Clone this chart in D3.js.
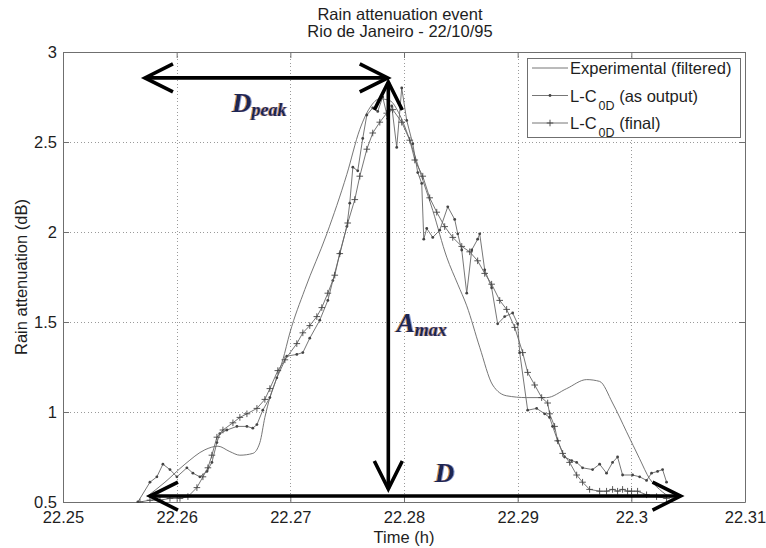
<!DOCTYPE html>
<html>
<head>
<meta charset="utf-8">
<script src="https://cdn.jsdelivr.net/npm/d3@7"></script>
<style>
  body { margin: 0; background: #fff; }
  svg { display: block; }
</style>
</head>
<body>
<svg id="chart" width="766" height="548"></svg>
<script>
// Rain attenuation event, Rio de Janeiro 22/10/95: time in hours, attenuation in dB
const titleLines = ["Rain attenuation event", "Rio de Janeiro - 22/10/95"];
const xLabel = "Time (h)";
const yLabel = "Rain attenuation (dB)";

const xTicks = [22.25, 22.26, 22.27, 22.28, 22.29, 22.30, 22.31];
const yTicks = [0.5, 1, 1.5, 2, 2.5, 3];

// Experimental (filtered)
const experimentalTime = [22.25738, 22.25897, 22.26073, 22.26248, 22.26363, 22.26468, 22.26556, 22.2667, 22.26732, 22.26776,
  22.2682, 22.26881, 22.26934, 22.26996, 22.27127, 22.27321, 22.27497, 22.27611, 22.27699, 22.27787,
  22.27875, 22.27963, 22.28051, 22.28138, 22.28253, 22.28376, 22.28473, 22.28552, 22.28666, 22.2878,
  22.28903, 22.29079, 22.29255, 22.29431, 22.29607, 22.29721, 22.29835, 22.29958, 22.30073, 22.3016,
  22.30248, 22.30354];
const experimentalAtt = [0.53, 0.61, 0.71, 0.79, 0.81, 0.78, 0.76, 0.77, 0.83, 0.97,
  1.08, 1.19, 1.29, 1.44, 1.68, 1.99, 2.32, 2.57, 2.69, 2.74,
  2.73, 2.65, 2.51, 2.34, 2.12, 1.86, 1.71, 1.59, 1.36, 1.15,
  1.09, 1.08, 1.08, 1.13, 1.18, 1.17, 1.05, 0.89, 0.74, 0.63,
  0.57, 0.52];

// L-C0D (as output)
const outputTime = [22.25659, 22.25765, 22.25826, 22.25879, 22.25941, 22.26002, 22.2609, 22.26143, 22.26204, 22.26266,
  22.2631, 22.26354, 22.2638, 22.26442, 22.2653, 22.26618, 22.2667, 22.26706, 22.26758, 22.2682,
  22.26881, 22.26969, 22.27057, 22.2711, 22.27171, 22.27259, 22.2733, 22.27374, 22.27435, 22.27497,
  22.27523, 22.2755, 22.27593, 22.27637, 22.27673, 22.27725, 22.27769, 22.27813, 22.27857, 22.27892,
  22.27936, 22.2798, 22.28024, 22.28077, 22.28121, 22.28156, 22.28174, 22.282, 22.28253, 22.28314,
  22.28385, 22.28446, 22.28473, 22.28508, 22.28552, 22.28596, 22.28648, 22.28666, 22.2871, 22.28771,
  22.28824, 22.28886, 22.28956, 22.29, 22.29018, 22.29088, 22.29167, 22.29237, 22.29281, 22.29308,
  22.29352, 22.29413, 22.29475, 22.29519, 22.29571, 22.29659, 22.29721, 22.29782, 22.29835, 22.29879,
  22.29923, 22.30011, 22.30073, 22.30134, 22.30178, 22.30231, 22.30275, 22.3031];
const outputAtt = [0.50, 0.61, 0.64, 0.71, 0.68, 0.64, 0.69, 0.66, 0.64, 0.67,
  0.72, 0.83, 0.88, 0.90, 0.92, 0.92, 0.91, 0.93, 1.01, 1.08,
  1.19, 1.31, 1.32, 1.33, 1.41, 1.51, 1.62, 1.73, 1.88, 2.03,
  2.16, 2.36, 2.34, 2.52, 2.65, 2.69, 2.67, 2.75, 2.63, 2.70,
  2.47, 2.80, 2.62, 2.49, 2.33, 2.27, 1.96, 2.02, 1.97, 2.01,
  2.14, 2.07, 1.99, 1.90, 1.66, 1.90, 1.96, 1.99, 1.79, 1.69,
  1.49, 1.53, 1.55, 1.49, 1.33, 1.01, 1.02, 0.99, 0.97, 0.92,
  0.84, 0.75, 0.73, 0.72, 0.69, 0.68, 0.71, 0.66, 0.72, 0.75,
  0.65, 0.65, 0.64, 0.62, 0.66, 0.67, 0.68, 0.61];

// L-C0D (final)
const finalTime = [22.25677, 22.25765, 22.25853, 22.25941, 22.26029, 22.26099, 22.26178, 22.26231, 22.26275, 22.2631,
  22.26354, 22.26407, 22.26495, 22.26556, 22.26618, 22.26706, 22.26776, 22.2682, 22.2689, 22.26952,
  22.27057, 22.2711, 22.27171, 22.27233, 22.27277, 22.2733, 22.27391, 22.27435, 22.27505, 22.27567,
  22.27611, 22.27673, 22.27725, 22.27787, 22.27848, 22.27901, 22.2798, 22.28051, 22.28095, 22.28165,
  22.28226, 22.28288, 22.28358, 22.28429, 22.28508, 22.28578, 22.28648, 22.2871, 22.28771, 22.28842,
  22.28903, 22.28974, 22.29044, 22.29088, 22.2915, 22.29211, 22.29264, 22.29281, 22.29325, 22.29352,
  22.29396, 22.29457, 22.29519, 22.29571, 22.29633, 22.29721, 22.29782, 22.29835, 22.29879, 22.29923,
  22.29967, 22.30002, 22.30055, 22.30134, 22.30222, 22.3031];
const finalAtt = [0.50, 0.51, 0.51, 0.52, 0.52, 0.53, 0.58, 0.64, 0.69, 0.76,
  0.86, 0.90, 0.94, 0.97, 0.99, 1.02, 1.07, 1.13, 1.23, 1.29,
  1.38, 1.44, 1.48, 1.53, 1.58, 1.66, 1.76, 1.88, 2.05, 2.18,
  2.31, 2.46, 2.55, 2.61, 2.66, 2.68, 2.61, 2.51, 2.40, 2.31,
  2.19, 2.11, 2.03, 1.97, 1.92, 1.89, 1.84, 1.77, 1.71, 1.62,
  1.57, 1.47, 1.33, 1.22, 1.15, 1.08, 1.05, 0.99, 0.92, 0.84,
  0.77, 0.72, 0.65, 0.61, 0.57, 0.56, 0.56, 0.57, 0.56, 0.57,
  0.56, 0.56, 0.56, 0.54, 0.53, 0.52];

// Event annotations: start/end points [time, dB]
const peakDurationArrow = [[22.25721, 2.856], [22.27857, 2.856]];
const maxAttenuationArrow = [[22.27862, 2.833], [22.27862, 0.572]];
const eventDurationArrow = [[22.25765, 0.533], [22.30433, 0.533]];
const annotationMain = ["D", "A", "D"];
const annotationSub = ["peak", "max", ""];
const annotationTime = [22.26486, 22.27936, 22.2827];
const annotationAtt = [2.667, 1.444, 0.611];

const legendLabels = [
  { main: "Experimental (filtered)", sub: "", tail: "" },
  { main: "L-C", sub: "0D", tail: " (as output)" },
  { main: "L-C", sub: "0D", tail: " (final)" }
];

// ---------------------------------------------------------------
const svg = d3.select("#chart");
const FONT = "'Liberation Sans', Arial, Helvetica, sans-serif";
const FS = 16.5;
const TEXT = "#1e1e1e";
const AXIS = "#6f6f6f";
const LINE = "#666";
const MARK = "#444";

const plot = { left: 63, right: 745, top: 52, bottom: 502 };
const x = d3.scaleLinear().domain([22.25, 22.31]).range([plot.left, plot.right]);
const y = d3.scaleLinear().domain([0.5, 3]).range([plot.bottom, plot.top]);

// colour fringe used on the annotation letters
const defs = svg.append("defs");
const fr = defs.append("filter").attr("id", "fringe")
  .attr("x", "-20%").attr("y", "-20%").attr("width", "140%").attr("height", "140%");
fr.append("feOffset").attr("in", "SourceAlpha").attr("dx", -1.3).attr("dy", 0.3).attr("result", "o1");
fr.append("feFlood").attr("flood-color", "#d98c2b").attr("flood-opacity", 0.9).attr("result", "c1");
fr.append("feComposite").attr("in", "c1").attr("in2", "o1").attr("operator", "in").attr("result", "orange");
fr.append("feOffset").attr("in", "SourceAlpha").attr("dx", 1).attr("dy", 0).attr("result", "o2");
fr.append("feFlood").attr("flood-color", "#4c6fc0").attr("flood-opacity", 0.7).attr("result", "c2");
fr.append("feComposite").attr("in", "c2").attr("in2", "o2").attr("operator", "in").attr("result", "blue");
const merge = fr.append("feMerge");
merge.append("feMergeNode").attr("in", "orange");
merge.append("feMergeNode").attr("in", "blue");
merge.append("feMergeNode").attr("in", "SourceGraphic");

svg.append("rect").attr("width", 766).attr("height", 548).attr("fill", "#fff");

// dotted grid
const grid = svg.append("g").attr("stroke", "#9a9a9a").attr("stroke-width", 1)
  .attr("stroke-dasharray", "1,2.5").attr("shape-rendering", "crispEdges");
grid.selectAll("line.vx").data(xTicks.slice(1, -1)).join("line")
  .attr("x1", d => Math.round(x(d)) + 0.5).attr("x2", d => Math.round(x(d)) + 0.5)
  .attr("y1", plot.top).attr("y2", plot.bottom);
grid.selectAll("line.hy").data(yTicks.slice(1, -1)).join("line")
  .attr("y1", d => Math.round(y(d)) + 0.5).attr("y2", d => Math.round(y(d)) + 0.5)
  .attr("x1", plot.left).attr("x2", plot.right);

// axes (ticks point inward, box on all four sides)
const fmtX = d3.format(".2~f");
const fmtY = d3.format("~g");
function styleAxis(g) {
  g.selectAll("path.domain").attr("stroke", AXIS);
  g.selectAll(".tick line").attr("stroke", AXIS);
  g.selectAll("text").attr("fill", TEXT).attr("font-family", FONT).attr("font-size", FS);
  g.attr("font-family", FONT).attr("font-size", FS);
}
svg.append("g").attr("transform", `translate(0,${plot.bottom})`)
  .call(d3.axisBottom(x).tickValues(xTicks).tickFormat(fmtX).tickSize(-6).tickSizeOuter(0).tickPadding(9))
  .call(styleAxis);
svg.append("g").attr("transform", `translate(0,${plot.top})`)
  .call(d3.axisTop(x).tickValues(xTicks).tickFormat("").tickSize(-6).tickSizeOuter(0))
  .call(styleAxis);
svg.append("g").attr("transform", `translate(${plot.left},0)`)
  .call(d3.axisLeft(y).tickValues(yTicks).tickFormat(fmtY).tickSize(-6).tickSizeOuter(0).tickPadding(6))
  .call(styleAxis);
svg.append("g").attr("transform", `translate(${plot.right},0)`)
  .call(d3.axisRight(y).tickValues(yTicks).tickFormat("").tickSize(-6).tickSizeOuter(0))
  .call(styleAxis);

// titles and axis labels
svg.append("g").selectAll("text").data(titleLines).join("text")
  .attr("x", 400).attr("y", (d, i) => 20 + i * 17)
  .attr("text-anchor", "middle").attr("font-family", FONT).attr("font-size", FS)
  .attr("fill", TEXT).text(d => d);
svg.append("text")
  .attr("x", (plot.left + plot.right) / 2).attr("y", 543)
  .attr("text-anchor", "middle").attr("font-family", FONT).attr("font-size", FS)
  .attr("fill", TEXT).text(xLabel);
svg.append("text")
  .attr("transform", `translate(27,${(plot.top + plot.bottom) / 2}) rotate(-90)`)
  .attr("text-anchor", "middle").attr("font-family", FONT).attr("font-size", FS)
  .attr("fill", TEXT).text(yLabel);

// series
const series = [
  { t: experimentalTime, v: experimentalAtt, curve: d3.curveMonotoneX, marker: null },
  { t: outputTime, v: outputAtt, curve: d3.curveLinear, marker: "dot" },
  { t: finalTime, v: finalAtt, curve: d3.curveLinear, marker: "plus" }
];
defs.append("clipPath").attr("id", "plotClip").append("rect")
  .attr("x", plot.left).attr("y", plot.top - 1)
  .attr("width", plot.right - plot.left).attr("height", plot.bottom - plot.top + 2);
const dataG = svg.append("g").attr("clip-path", "url(#plotClip)");

function plusPath(cx, cy, s) {
  return `M${cx - s},${cy}H${cx + s}M${cx},${cy - s}V${cy + s}`;
}

series.forEach(s => {
  const pts = s.t.map((t, i) => [t, s.v[i]]);
  const line = d3.line().x(d => x(d[0])).y(d => y(d[1])).curve(s.curve);
  dataG.append("path").datum(pts).attr("d", line)
    .attr("fill", "none").attr("stroke", LINE).attr("stroke-width", 0.9)
    .attr("stroke-linejoin", "round");
  if (s.marker === "dot") {
    dataG.append("g").selectAll("circle").data(pts).join("circle")
      .attr("cx", d => x(d[0])).attr("cy", d => y(d[1])).attr("r", 1.4)
      .attr("fill", MARK);
  } else if (s.marker === "plus") {
    dataG.append("g").selectAll("path").data(pts).join("path")
      .attr("d", d => plusPath(x(d[0]), y(d[1]), 3.3))
      .attr("stroke", MARK).attr("stroke-width", 0.9).attr("fill", "none");
  }
});

// annotation arrows
const arrowG = svg.append("g").attr("stroke", "#000").attr("stroke-width", 3.6)
  .attr("fill", "none").attr("stroke-linecap", "butt").attr("stroke-linejoin", "miter");
function arrowHead(px, py, dx, dy) {
  const len = Math.hypot(dx, dy), ux = dx / len, uy = dy / len;
  const a = 28, p = 14;
  return [[px - a * ux - p * uy, py - a * uy + p * ux], [px, py], [px - a * ux + p * uy, py - a * uy - p * ux]];
}
function drawArrow(seg) {
  const x1 = x(seg[0][0]), y1 = y(seg[0][1]), x2 = x(seg[1][0]), y2 = y(seg[1][1]);
  arrowG.append("line").attr("x1", x1).attr("y1", y1).attr("x2", x2).attr("y2", y2);
  arrowG.append("polyline").attr("points", arrowHead(x1, y1, x1 - x2, y1 - y2).join(" "));
  arrowG.append("polyline").attr("points", arrowHead(x2, y2, x2 - x1, y2 - y1).join(" "));
}
[peakDurationArrow, maxAttenuationArrow, eventDurationArrow].forEach(drawArrow);

// annotation labels (serif bold italic)
const SERIF = "'Liberation Serif', 'Times New Roman', Times, serif";
annotationMain.forEach((m, i) => {
  const t = svg.append("text")
    .attr("x", x(annotationTime[i])).attr("y", y(annotationAtt[i]))
    .attr("font-family", SERIF).attr("font-style", "italic").attr("font-weight", "bold")
    .attr("fill", "#1b2554").attr("filter", "url(#fringe)");
  t.append("tspan").attr("font-size", 27).text(m);
  if (annotationSub[i]) t.append("tspan").attr("font-size", 18).attr("dy", 4).text(annotationSub[i]);
});

// legend
const legend = svg.append("g");
const lg = { x: 527, y: 58, w: 213, h: 79 };
legend.append("rect").attr("x", lg.x + 0.5).attr("y", lg.y + 0.5).attr("width", lg.w).attr("height", lg.h)
  .attr("fill", "#fff").attr("stroke", AXIS).attr("stroke-width", 1);
const rowY = [68, 95.5, 123];
legendLabels.forEach((lab, i) => {
  const yy = rowY[i];
  legend.append("line").attr("x1", 532).attr("x2", 568).attr("y1", yy).attr("y2", yy)
    .attr("stroke", LINE).attr("stroke-width", 0.9);
  if (series[i].marker === "dot") {
    legend.append("circle").attr("cx", 550).attr("cy", yy).attr("r", 1.4).attr("fill", MARK);
  } else if (series[i].marker === "plus") {
    legend.append("path").attr("d", plusPath(550, yy, 3.3)).attr("stroke", MARK).attr("stroke-width", 0.9);
  }
  const t = legend.append("text").attr("x", 570).attr("y", yy + 6)
    .attr("font-family", FONT).attr("font-size", FS).attr("fill", TEXT);
  t.append("tspan").text(lab.main);
  if (lab.sub) {
    t.append("tspan").attr("font-size", 12.5).attr("dy", 8).attr("dx", 2).text(lab.sub);
    t.append("tspan").attr("dy", -8).text(lab.tail);
  }
});
</script>
</body>
</html>
